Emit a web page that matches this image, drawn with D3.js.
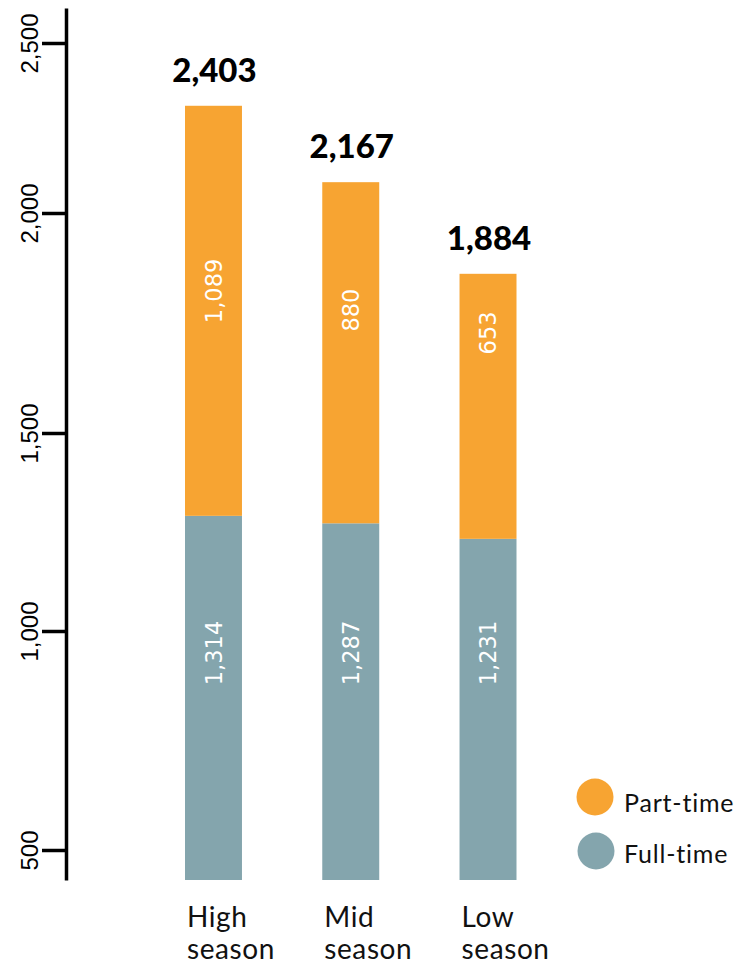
<!DOCTYPE html>
<html>
<head>
<meta charset="utf-8">
<script src="https://cdn.jsdelivr.net/npm/d3@7"></script>
<style>
  html, body { margin: 0; padding: 0; background: #fff; }
  svg { display: block; }
</style>
</head>
<body>
<svg id="chart" width="744" height="965"></svg>
<script>
// ---- data ----
const categories = ["High season", "Mid season", "Low season"];
const fullTime = [1314, 1287, 1231];
const partTime = [1089, 880, 653];
const totals = [2403, 2167, 1884];
const axisTicks = [500, 1000, 1500, 2000, 2500];
const seriesNames = ["Part-time", "Full-time"];
const seriesColors = ["#F7A432", "#84A5AD"];

// ---- layout ----
const W = 744, H = 965;
const axisX = 66, plotTop = 8, plotBottom = 880;
const svg = d3.select("#chart");
const fmt = d3.format(",");

// The reference's value axis is not proportional; both scales are calibrated to the picture.
const yAxisScale = d3.scaleLinear()
  .domain([432, 500, 1000, 1500, 2000, 2500, 2603])
  .range([plotBottom, 850, 631, 433, 213, 43, plotTop]);

const yBar = d3.scaleLinear()
  .domain([0, 1400, 1800, 2600])
  .range([plotBottom, 492, 301, 42]);

// in-bar label row for the part-time values, tied to the stack total
const ptLabelY = d3.scaleLinear().domain([0, 2600]).range([485.5, 275]);
const ftLabelY = plotBottom - 227;

const x = d3.scaleBand()
  .domain(categories)
  .range([185, 516.5])
  .paddingInner(0.585)
  .paddingOuter(0);

// ---- bars ----
const rows = categories.map((c, i) => ({
  cat: c, ft: fullTime[i], pt: partTime[i], total: totals[i]
}));

const g = svg.append("g");
rows.forEach(d => {
  // full-time (bottom)
  g.append("rect")
    .attr("x", x(d.cat))
    .attr("width", x.bandwidth())
    .attr("y", yBar(d.ft))
    .attr("height", yBar(0) - yBar(d.ft))
    .attr("fill", seriesColors[1]);
  // part-time (top)
  g.append("rect")
    .attr("x", x(d.cat))
    .attr("width", x.bandwidth())
    .attr("y", yBar(d.ft + d.pt))
    .attr("height", yBar(d.ft) - yBar(d.ft + d.pt))
    .attr("fill", seriesColors[0]);

  const cx = x(d.cat) + x.bandwidth() / 2;
  // inner labels
  g.append("text")
    .attr("transform", `translate(${cx},${ptLabelY(d.total)}) rotate(-90)`)
    .attr("dy", "0.36em")
    .attr("text-anchor", "middle")
    .attr("font-family", "DejaVu Sans")
    .attr("font-size", 22.5)
    .attr("fill", "#fff")
    .text(fmt(d.pt));
  g.append("text")
    .attr("transform", `translate(${cx},${ftLabelY}) rotate(-90)`)
    .attr("dy", "0.36em")
    .attr("text-anchor", "middle")
    .attr("font-family", "DejaVu Sans")
    .attr("font-size", 22.5)
    .attr("fill", "#fff")
    .text(fmt(d.ft));

  // total label
  g.append("text")
    .attr("x", cx + 1)
    .attr("y", yBar(d.total) - 24)
    .attr("text-anchor", "middle")
    .attr("font-family", "Lato")
    .attr("font-weight", "900")
    .attr("font-size", 33)
    .attr("fill", "#000")
    .text(fmt(d.total));

  // category label (two lines, left aligned to bar)
  const words = d.cat.split(" ");
  const t = g.append("text")
    .attr("x", x(d.cat) + 2)
    .attr("y", 927)
    .attr("font-family", "Lato")
    .attr("font-size", 28)
    .attr("letter-spacing", 0.6)
    .attr("fill", "#111");
  words.forEach((w, k) => {
    t.append("tspan").attr("x", x(d.cat) + 2).attr("dy", k === 0 ? 0 : 32).text(w);
  });
});

// ---- axis ----
const axis = d3.axisLeft(yAxisScale)
  .tickValues(axisTicks)
  .tickSize(24)
  .tickSizeOuter(0)
  .tickPadding(0)
  .tickFormat(fmt);

const ag = svg.append("g")
  .attr("transform", `translate(${axisX},0)`)
  .call(axis);
ag.select(".domain").attr("stroke", "#000").attr("stroke-width", 3.5);
ag.selectAll(".tick line").attr("stroke", "#000").attr("stroke-width", 3.5);
ag.selectAll(".tick text")
  .attr("transform", "rotate(-90)")
  .attr("x", 0)
  .attr("y", -28)
  .attr("dy", 0)
  .attr("text-anchor", "middle")
  .attr("font-family", "Liberation Sans")
  .attr("font-size", 24)
  .attr("fill", "#000");

// ---- legend ----
const lg = svg.append("g");
seriesNames.forEach((name, i) => {
  lg.append("circle")
    .attr("cx", 595 + i * 1)
    .attr("cy", 797 + i * 54)
    .attr("r", 18.5)
    .attr("fill", seriesColors[i]);
  lg.append("text")
    .attr("x", 624)
    .attr("y", 812 + i * 51)
    .attr("font-family", "Lato")
    .attr("font-size", 25)
    .attr("letter-spacing", 0.8)
    .attr("fill", "#111")
    .text(name);
});
</script>
</body>
</html>
